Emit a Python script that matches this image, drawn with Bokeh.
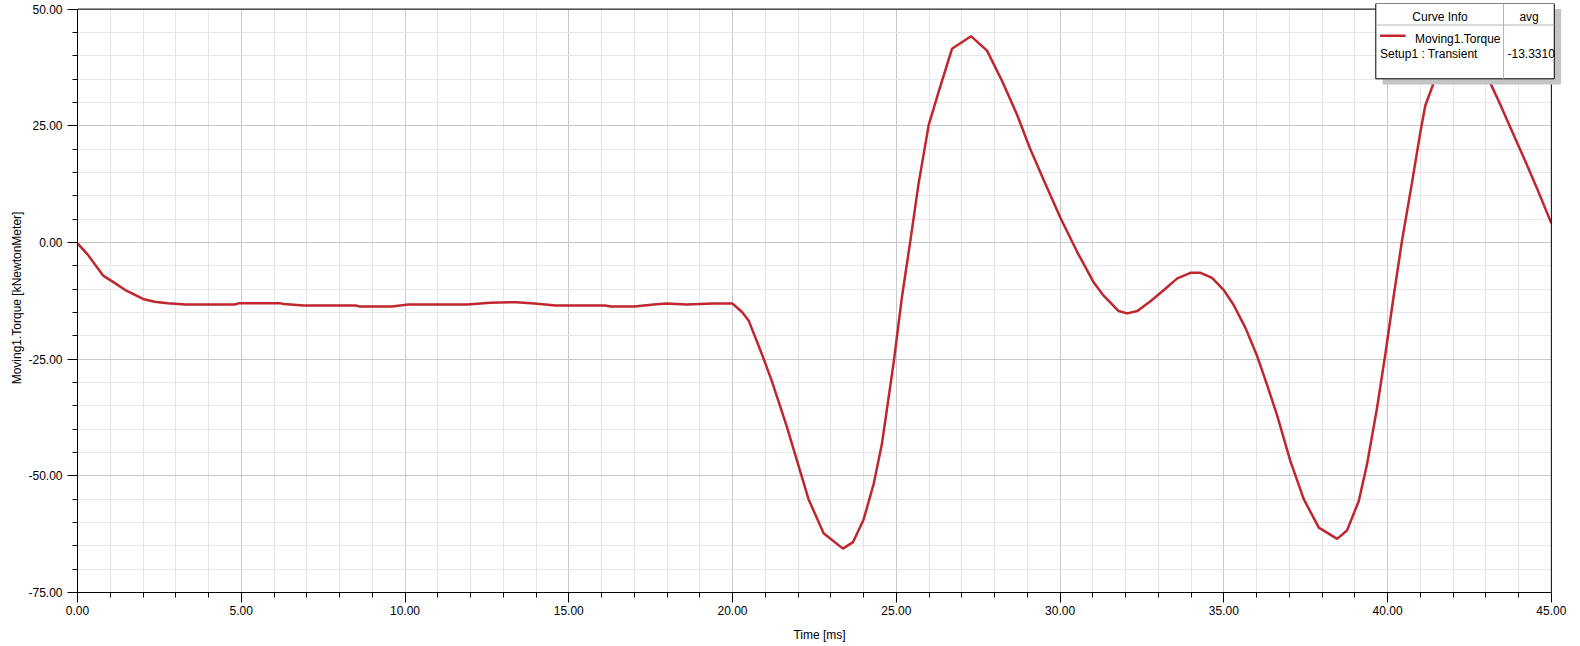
from bokeh.plotting import figure
from bokeh.models import (Range1d, SingleIntervalTicker, PrintfTickFormatter,
                          BoxAnnotation, Label, Arrow)
from bokeh.embed import file_html
from bokeh.resources import INLINE

# ---- data ----
time_ms = [0.0, 0.3, 0.78, 1.12, 1.46, 2.0, 2.35, 2.75, 3.3, 4.8, 4.94, 6.17, 6.3, 6.9,
           8.5, 8.6, 9.6, 10.1, 11.9, 12.6, 13.4, 13.95, 14.6, 16.1, 16.3, 17.0, 17.6,
           18.0, 18.6, 19.4, 20.0,
           20.29, 20.49, 20.9, 21.2, 21.66, 21.97, 22.32, 22.78, 23.37, 23.68, 24.0,
           24.31, 24.56, 24.92, 25.17, 25.43, 25.68, 25.99, 26.29, 26.70, 27.28, 27.77,
           28.23, 28.69, 29.09, 29.5, 30.01, 30.52, 31.03, 31.33, 31.79, 32.05, 32.36,
           32.76, 33.17, 33.58, 33.98, 34.29, 34.64, 35.0, 35.3, 35.66, 36.02, 36.32,
           36.63, 37.03, 37.44, 37.9, 38.46, 38.76, 39.12, 39.37, 39.67, 39.93, 40.18,
           40.44, 40.74, 41.0, 41.15, 41.45, 41.85, 42.3, 42.75, 43.08, 43.43, 43.84,
           44.2, 44.55, 45.0]
torque_kNm = [-0.2, -2.5, -7.1, -8.6, -10.2, -12.1, -12.7, -13.0, -13.3, -13.3, -13.0,
              -13.0, -13.2, -13.5, -13.5, -13.7, -13.7, -13.3, -13.3, -12.9, -12.8, -13.1,
              -13.5, -13.5, -13.7, -13.7, -13.3, -13.1, -13.3, -13.1, -13.1,
              -14.9, -16.7, -24.0, -29.7, -39.5, -46.8, -55.0, -62.3, -65.6, -64.2, -59.4,
              -51.7, -43.2, -25.7, -11.8, 0.4, 12.6, 25.2, 32.2, 41.5, 44.2, 41.1,
              34.6, 27.3, 20.0, 13.4, 5.3, -2.0, -8.6, -11.4, -14.7, -15.2, -14.7,
              -12.6, -10.2, -7.7, -6.5, -6.5, -7.6, -10.2, -13.4, -18.3, -24.4, -30.5,
              -37.1, -46.8, -55.0, -61.1, -63.5, -61.7, -55.4, -47.6, -35.8, -24.0, -11.8,
              0.4, 12.6, 23.6, 29.3, 35.0, 41.3, 44.0, 41.0, 35.0, 29.7, 23.2,
              17.5, 11.8, 4.1]

x_limits = [0, 45]
y_limits = [-75, 50]
x_major_step = 5
y_major_step = 25

curve_name = "Moving1.Torque"
setup_name = "Setup1 : Transient"
avg_label = "avg"
avg_value = "-13.3310"
header_label = "Curve Info"

LINE_COLOR = "#c0262e"
FONT = "Liberation Sans"
FS = "12px"

# a little head-room right/top so the "Curve Info" table (which overhangs
# the plot frame in the original) is not clipped
X_PAD = 0.31
Y_PAD = 1.2

p = figure(width=1572, height=644, output_backend="svg", toolbar_location=None,
           x_range=Range1d(x_limits[0], x_limits[1] + X_PAD),
           y_range=Range1d(y_limits[0], y_limits[1] + Y_PAD),
           min_border_left=77, min_border_right=11, min_border_top=3,
           min_border_bottom=50)
p.background_fill_color = "white"
p.border_fill_color = "white"
p.outline_line_color = None

p.line(time_ms, torque_kNm, line_color=LINE_COLOR, line_width=2.5)

p.xaxis.ticker = SingleIntervalTicker(interval=x_major_step, num_minor_ticks=5)
p.yaxis.ticker = SingleIntervalTicker(interval=y_major_step, num_minor_ticks=5)
p.xaxis.formatter = PrintfTickFormatter(format="%.2f")
p.yaxis.formatter = PrintfTickFormatter(format="%.2f")
p.xaxis.bounds = tuple(x_limits)
p.yaxis.bounds = tuple(y_limits)

for ax in (p.xaxis[0], p.yaxis[0]):
    ax.axis_line_color = "black"
    ax.major_tick_line_color = "black"
    ax.minor_tick_line_color = "black"
    ax.major_tick_in = 0
    ax.minor_tick_in = 0
    ax.major_tick_out = 10
    ax.minor_tick_out = 5
    ax.major_label_text_font = FONT
    ax.major_label_text_font_size = FS
    ax.major_label_text_color = "black"
    ax.axis_label_text_font = FONT
    ax.axis_label_text_font_size = FS
    ax.axis_label_text_font_style = "normal"
    ax.axis_label_text_color = "black"

p.xaxis.axis_label = "Time [ms]"
p.yaxis.axis_label = "Moving1.Torque [kNewtonMeter]"
p.xaxis.major_label_standoff = 3
p.xaxis.axis_label_standoff = 10
p.yaxis.major_label_standoff = 5
p.yaxis.axis_label_standoff = 1

p.xgrid.grid_line_color = "#c8c8c8"
p.ygrid.grid_line_color = "#c8c8c8"
p.xgrid.minor_grid_line_color = "#e6e6e6"
p.ygrid.minor_grid_line_color = "#e6e6e6"

# white-out the head-room strips, then draw the frame's top/right borders
p.add_layout(BoxAnnotation(left=x_limits[1], fill_color="white", fill_alpha=1.0,
                           line_color=None))
p.add_layout(BoxAnnotation(bottom=y_limits[1], fill_color="white", fill_alpha=1.0,
                           line_color=None))
p.add_layout(Arrow(x_start=x_limits[0], y_start=y_limits[1], x_end=x_limits[1],
                   y_end=y_limits[1], end=None, line_color="black", line_width=1))
p.add_layout(Arrow(x_start=x_limits[1], y_start=y_limits[0], x_end=x_limits[1],
                   y_end=y_limits[1], end=None, line_color="black", line_width=1))

# ---- legend table ("Curve Info") ----
lx0, lx1, ldiv = 39.64, 45.09, 43.54
ly0, ly1, lhead = 35.07, 51.2, 46.59
sdx, sdy = 0.21, 1.2
p.add_layout(BoxAnnotation(left=lx0 + sdx, right=lx1 + sdx, top=ly1 - sdy, bottom=ly0 - sdy,
                           fill_color="#c4c4c4", fill_alpha=1.0, line_color=None))
p.add_layout(BoxAnnotation(left=lx0, right=lx1, top=ly1, bottom=ly0,
                           fill_color="white", fill_alpha=1.0, line_color="black",
                           line_width=1, line_alpha=1.0))
p.add_layout(Arrow(x_start=ldiv, y_start=ly1, x_end=ldiv, y_end=ly0, end=None,
                   line_color="#b4b4b4", line_width=1))
p.add_layout(Arrow(x_start=lx0, y_start=lhead, x_end=lx1, y_end=lhead, end=None,
                   line_color="#b4b4b4", line_width=1))
p.add_layout(Arrow(x_start=39.77, y_start=44.3, x_end=40.55, y_end=44.3, end=None,
                   line_color=LINE_COLOR, line_width=2.5))

def lab(x, y, t, align="left"):
    p.add_layout(Label(x=x, y=y, text=t, text_font=FONT, text_font_size=FS,
                       text_color="black", text_align=align, text_baseline="middle"))

lab(41.6, 48.4, header_label, "center")
lab(44.32, 48.4, avg_label, "center")
lab(40.84, 43.6, curve_name)
lab(39.77, 40.4, setup_name)
lab(43.66, 40.4, avg_value)

open("out.html", "w").write(file_html(p, INLINE))
